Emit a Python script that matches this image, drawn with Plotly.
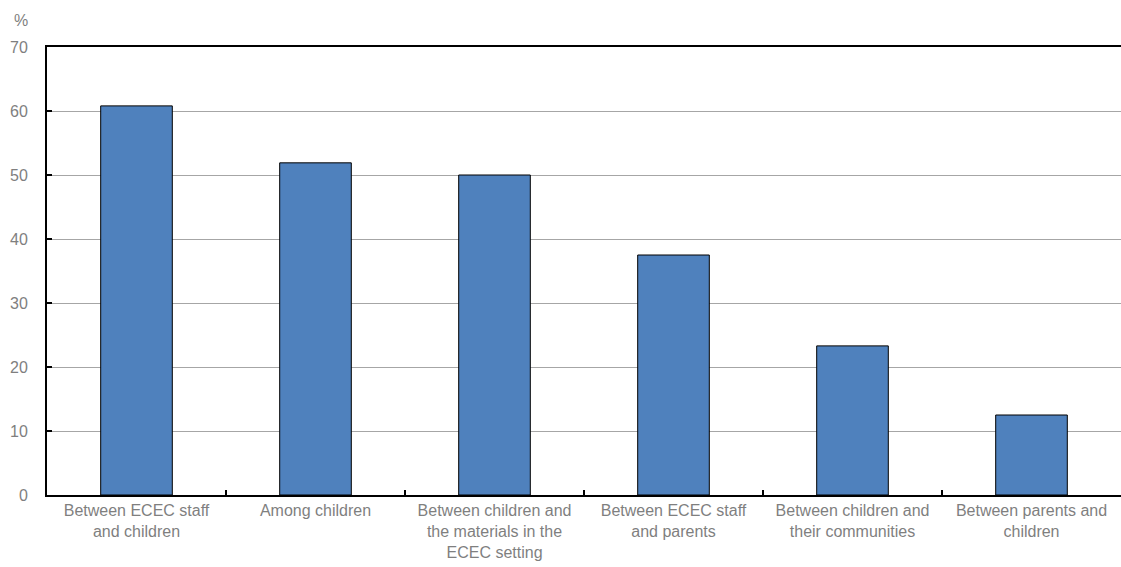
import plotly.graph_objects as go

categories = [
    "Between ECEC staff<br>and children",
    "Among children",
    "Between children and<br>the materials in the<br>ECEC setting",
    "Between ECEC staff<br>and parents",
    "Between children and<br>their communities",
    "Between parents and<br>children",
]
values = [60.8, 51.9, 50.0, 37.5, 23.3, 12.5]
y_ticks = [0, 10, 20, 30, 40, 50, 60, 70]

grey = "#7f7f7f"
fs = 16
fig = go.Figure(go.Bar(
    x=categories, y=values, width=0.4,
    marker=dict(color="#4f81bd", line=dict(color="#000000", width=1)),
))
fig.update_layout(
    width=1121, height=567,
    margin=dict(l=47, r=0, t=47, b=72, autoexpand=False),
    paper_bgcolor="white", plot_bgcolor="white",
    font=dict(family="Liberation Sans, Arial", size=fs, color=grey),
    showlegend=False,
    annotations=[dict(text="%", xref="paper", yref="paper", x=-0.033, y=1.035,
                      xanchor="left", yanchor="bottom", showarrow=False,
                      font=dict(size=fs, color=grey))],
)
fig.update_xaxes(
    showline=True, linecolor="black", linewidth=2, mirror=True,
    ticks="inside", tickson="boundaries", ticklen=5, tickcolor="black", tickwidth=2,
    showgrid=False, tickfont=dict(size=fs, color=grey), automargin=False,
)
fig.update_yaxes(
    range=[0, 70], tickvals=y_ticks, showline=True, linecolor="black", linewidth=2,
    ticks="inside", ticklen=5, tickcolor="black", tickwidth=2,
    showgrid=True, gridcolor="#a6a6a6", gridwidth=1, zeroline=False,
    ticklabelstandoff=14, tickfont=dict(size=fs, color=grey), automargin=False,
)
fig.write_html(
    "out.html",
    config={"displayModeBar": False},
    post_script="document.body.style.margin='0';document.body.style.padding='0';",
)
